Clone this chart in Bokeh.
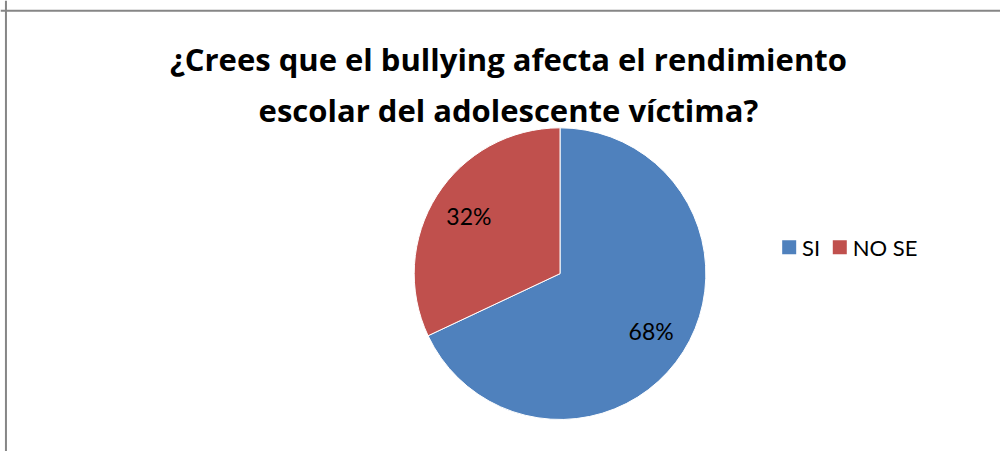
import math
from bokeh.plotting import figure
from bokeh.models import Range1d, Span, Label, ColumnDataSource
from bokeh.core.properties import value
from bokeh.embed import file_html
from bokeh.resources import INLINE

# ---- data ----
title_lines = ["¿Crees que el bullying afecta el rendimiento",
               "escolar del adolescente víctima?"]
categories = ["SI", "NO SE"]
shares = [0.68, 0.32]
colors = ["#4F81BD", "#C0504D"]

W, H = 1000, 451
RW, RH = 1008, 459  # layout reference space
p = figure(width=W, height=H, output_backend="svg", toolbar_location=None,
           x_range=Range1d(0, RW), y_range=Range1d(0, RH), min_border=0)
p.axis.visible = False
p.grid.visible = False
p.outline_line_color = None
p.background_fill_color = "white"
p.border_fill_color = "white"

# chart-area border (left and top visible in reference)
p.add_layout(Span(location=5.5, dimension="height", line_color="#868686", line_width=2))
p.add_layout(Span(location=RH - 10.5, dimension="width", line_color="#868686", line_width=2))

# pie geometry
cx, cy, r = 564, RH - 278, 147
starts, ends, lx, ly, labels = [], [], [], [], []
cum = 0.0
for s in shares:
    a0 = math.pi / 2 - 2 * math.pi * cum
    a1 = math.pi / 2 - 2 * math.pi * (cum + s)
    starts.append(a0)
    ends.append(a1)
    mid = (a0 + a1) / 2
    lx.append(cx + 0.74 * r * math.cos(mid))
    ly.append(cy + 0.74 * r * math.sin(mid))
    labels.append(f"{round(s * 100)}%")
    cum += s

src = ColumnDataSource(dict(start=starts, end=ends, color=colors, cat=categories,
                            lx=lx, ly=ly, lab=labels))
p.wedge(x=cx, y=cy, radius=r * W / RW, radius_units="screen", start_angle="start", end_angle="end",
        direction="clock", fill_color="color", line_color="white", line_width=1, source=src)
p.text(x="lx", y="ly", text="lab", source=src, text_align="center", text_baseline="middle",
       text_font=value("Lato"), text_font_size="23px", text_color="black")

# title
title_y = [RH - 76 + 16, RH - 120 + 9]
for i, line in enumerate(title_lines):
    p.add_layout(Label(x=512, y=title_y[i], text=line, text_align="center",
                       text_baseline="alphabetic", text_font="Open Sans", text_font_style="bold",
                       text_font_size="31px", text_color="black"))

# legend (manual)
leg_sq_x = [795, 846]
leg_tx = [808, 859]
leg_y = RH - 251
for i, (c, col) in enumerate(zip(categories, colors)):
    p.rect(x=leg_sq_x[i], y=leg_y, width=14, height=14, width_units="screen",
           height_units="screen", fill_color=col, line_color=None)
    p.add_layout(Label(x=leg_tx[i], y=leg_y, text=c, text_align="left", text_baseline="middle",
                       text_font="Lato", text_font_size="22px", text_color="black"))

open("out.html", "w").write(file_html(p, INLINE))
